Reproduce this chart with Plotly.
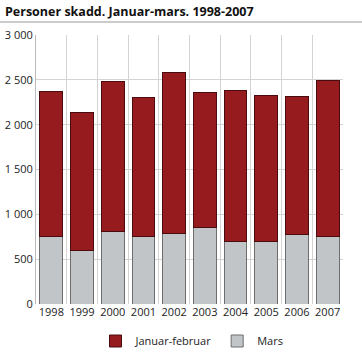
import plotly.graph_objects as go

years = ["1998", "1999", "2000", "2001", "2002", "2003", "2004", "2005", "2006", "2007"]
totals = [2365, 2135, 2485, 2300, 2580, 2363, 2382, 2330, 2318, 2494]
mars = [750, 602, 806, 750, 791, 851, 694, 694, 780, 758]
jan_feb = [t - m for t, m in zip(totals, mars)]

L, R, T, B = 36, 19, 35, 51
W, H = 362, 355
pw, ph = W - L - R, H - T - B

fig = go.Figure()
fig.add_trace(go.Bar(x=years, y=mars, name="Mars",
                     marker=dict(color="#c1c5c8", line=dict(color="#6e6e6e", width=1))))
fig.add_trace(go.Bar(x=years, y=jan_feb, name="Januar-februar",
                     marker=dict(color="#951b1f", line=dict(color="#4a0c0e", width=1))))

fig.update_layout(
    width=W, height=H,
    margin=dict(l=L, r=R, t=T, b=B, autoexpand=False),
    barmode="stack", bargap=0.26,
    plot_bgcolor="white", paper_bgcolor="white",
    separators=", ",
    font=dict(family="Open Sans", size=11, color="#222222"),
    title=dict(text="<b>Personer skadd. Januar-mars. 1998-2007</b>",
               x=5 / W, xref="container", xanchor="left", y=1 - 12 / H, yanchor="middle",
               pad=dict(l=0), font=dict(size=12.5, color="#111111")),
    showlegend=True,
    legend=dict(orientation="h", traceorder="reversed",
                xref="container", yref="container",
                x=192 / W, xanchor="center", y=1 - 341 / H, yanchor="middle",
                font=dict(size=11, color="#222222")),
    xaxis=dict(tickson="boundaries", showgrid=True, gridcolor="#d3d3d3", gridwidth=1,
               ticks="", showline=False, tickangle=0, tickfont=dict(size=11)),
    yaxis=dict(range=[0, 3000], dtick=500, tickformat=",d", showgrid=True,
               gridcolor="#d3d3d3", gridwidth=1, showline=True, linecolor="#bbbbbb",
               ticks="", zeroline=False, tickfont=dict(size=11)),
)
fig.add_shape(type="line", xref="paper", yref="paper",
              x0=-L / pw, x1=(W - L) / pw, y0=1 + 13 / ph, y1=1 + 13 / ph,
              line=dict(color="#999999", width=1))

fig.write_html("out.html")
